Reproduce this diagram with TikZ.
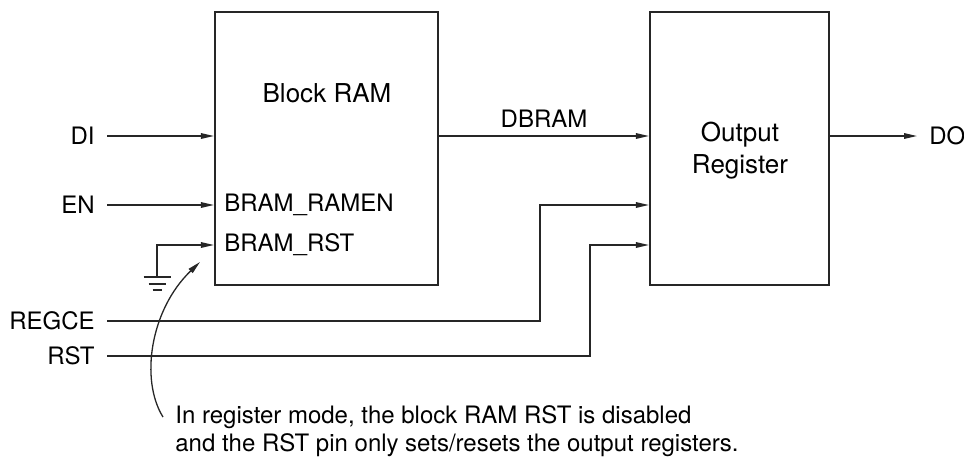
\documentclass[tikz,border=0pt]{standalone}
\usepackage{fontspec}
\setmainfont{TeX Gyre Heros}
\usetikzlibrary{arrows.meta,positioning,calc}
\definecolor{wire}{RGB}{38,38,38}

\begin{document}
\begin{tikzpicture}[x=0.5pt,y=-0.5pt,
    blk/.style={draw=wire, line width=1.1pt, minimum width=#1, minimum height=136.5pt, inner sep=0pt},
    sig/.style={draw=wire, line width=0.65pt, -{Triangle[length=6.5pt,width=2.8pt]}},
    gndbar/.style={draw=wire, line width=1.1pt},
    port/.style={inner xsep=6pt, inner ysep=2pt, font=\fontsize{12}{14}\selectfont},
    title/.style={align=center, font=\fontsize{13}{16}\selectfont},
    note/.style={align=left, inner sep=0pt, font=\fontsize{12}{14.25}\selectfont}]
    \useasboundingbox (0,0) rectangle (964,456);
    % blocks
    \node[blk=111.5pt] (bram) at (326.5,148.5) {};
    \node[blk=89.5pt] (oreg) at (739.5,148.5) {};
    \node[title] (bramtitle) at (327,93) {Block RAM};
    \node[title] (oregtitle) at (740,151) {Output\\Register};
    \node[port, anchor=west, inner xsep=0pt] (bramen) at (224,205) {BRAM\_RAMEN};
    \node[port, anchor=west, inner xsep=0pt] (bramrst) at (224,245) {BRAM\_RST};
    % ports
    \node[port, anchor=east] (di) at (107,136) {DI};
    \node[port, anchor=east] (en) at (107,205) {EN};
    \node[port, anchor=east] (regce) at (107,321) {REGCE};
    \node[port, anchor=east] (rst) at (107,356) {RST};
    \node[port, anchor=west] (do) at (917,136) {DO};
    \coordinate (gnd) at (157,277);
    \coordinate (cebend) at (540,205);
    \coordinate (rstbend) at (590,245);
    \draw[sig] (di) -- (di -| bram.west);
    \draw[sig] (en) -- (bramen -| bram.west);
    \draw[sig] (gnd) |- (bramrst -| bram.west);
    \draw[sig] (bram.east |- di) -- node[port, above=2pt] (dbram) {DBRAM} (oreg.west |- di);
    \draw[sig] (oreg.east |- di) -- (do);
    \draw[sig] (regce) -| (cebend) -- (cebend -| oreg.west);
    \draw[sig] (rst) -| (rstbend) -- (rstbend -| oreg.west);
    \draw[gndbar] ([xshift=-6.75pt]gnd) -- ([xshift=6.75pt]gnd);
    \draw[gndbar] ([xshift=-4.25pt,yshift=-3.5pt]gnd) -- ([xshift=4.25pt,yshift=-3.5pt]gnd);
    \draw[gndbar] ([xshift=-2.25pt,yshift=-6.5pt]gnd) -- ([xshift=2.25pt,yshift=-6.5pt]gnd);
    % note
    \node[note, anchor=north west] (note) at (175,405)
        {In register mode, the block RAM RST is disabled\\and the RST pin only sets/resets the output registers.};
    \coordinate (ctip) at (200,262);
    \draw[sig] ([xshift=-6pt,yshift=-6pt]note.north west) .. controls (140,380) and (150,310) .. (ctip);
\end{tikzpicture}
\end{document}
